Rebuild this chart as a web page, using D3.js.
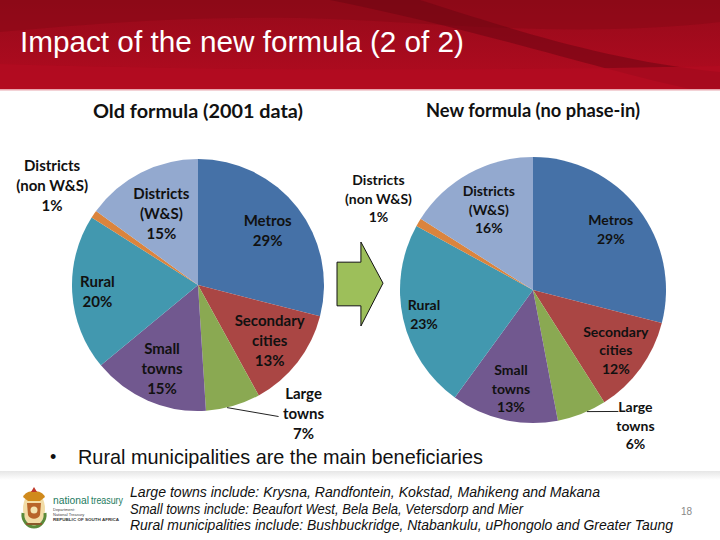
<!DOCTYPE html>
<html>
<head>
<meta charset="utf-8">
<script src="https://cdn.jsdelivr.net/npm/d3@7"></script>
<style>
  body { margin: 0; background: #fff; }
  svg { display: block; font-family: "Liberation Sans", Arial, sans-serif; }
  .lbl { font-family: Lato, "Open Sans", sans-serif; font-weight: bold; fill: #111; }
</style>
</head>
<body>
<svg class="slide" width="720" height="540"></svg>
<script>
// data
const categories = ["Metros", "Secondary cities", "Large towns", "Small towns", "Rural", "Districts (non W&S)", "Districts (W&S)"];
const labelLines = [["Metros"], ["Secondary", "cities"], ["Large", "towns"], ["Small", "towns"], ["Rural"], ["Districts", "(non W&S)"], ["Districts", "(W&S)"]];
const oldShares = [29, 13, 7, 15, 20, 1, 15];
const newShares = [29, 12, 6, 13, 23, 1, 16];
const sliceColors = ["#4571a7", "#aa4644", "#8aa952", "#71588f", "#4298af", "#db843d", "#93a9cf"];
const footnotes = [
  "Large towns include: Krysna, Randfontein, Kokstad, Mahikeng and Makana",
  "Small towns include: Beaufort West, Bela Bela, Vetersdorp and Mier",
  "Rural municipalities include: Bushbuckridge, Ntabankulu, uPhongolo and Greater Taung"
];

const svg = d3.select(".slide");

/*
      Header
*/
const defs = svg.append("defs");
const hg = defs.append("linearGradient").attr("id", "hdr").attr("x1", 0).attr("y1", 0).attr("x2", 0).attr("y2", 1);
hg.append("stop").attr("offset", "0%").attr("stop-color", "#960a1a");
hg.append("stop").attr("offset", "100%").attr("stop-color", "#b20b20");
svg.append("rect").attr("width", 720).attr("height", 89).attr("fill", "url(#hdr)");

// darker swooshes
svg.append("path")
  .attr("d", "M0,0 L720,0 L720,22 C560,40 420,20 300,18 C180,16 80,25 0,32 Z")
  .attr("fill", "#7f0714").attr("opacity", 0.4);
svg.append("path")
  .attr("d", "M330,0 L420,0 C500,25 600,60 720,72 L720,89 L690,89 C600,70 480,30 330,0 Z")
  .attr("fill", "#6e0512").attr("opacity", 0.55);
svg.append("path")
  .attr("d", "M0,64 C200,70 420,72 720,66 L720,89 L0,89 Z")
  .attr("fill", "#b40c21").attr("opacity", 0.7);
svg.append("rect").attr("x", 0).attr("y", 89).attr("width", 720).attr("height", 1.5).attr("fill", "#e8a6ae");

svg.append("text")
  .attr("x", 20).attr("y", 52)
  .attr("fill", "#fff")
  .attr("font-size", 29)
  .attr("textLength", 444).attr("lengthAdjust", "spacingAndGlyphs")
  .text("Impact of the new formula (2 of 2)");

/*
      Pies
*/
const pie = d3.pie().sort(null).value((d) => d);

function drawPie(opts) {
  const g = svg.append("g").attr("transform", `translate(${opts.cx},${opts.cy})`);
  const arcs = pie(opts.values);
  const arc = d3.arc().innerRadius(0).outerRadius(opts.r);

  g.selectAll("path")
    .data(arcs)
    .join("path")
    .attr("d", arc)
    .attr("fill", (d, i) => sliceColors[i]);

  svg.append("text")
    .attr("class", "lbl")
    .attr("x", opts.cx).attr("y", opts.titleY)
    .attr("text-anchor", "middle")
    .attr("font-size", 19)
    .attr("textLength", opts.titleW).attr("lengthAdjust", "spacingAndGlyphs")
    .text(opts.title);

  arcs.forEach((d, i) => {
    const lay = opts.layout[i];
    const mid = lay.angle !== undefined ? (lay.angle * Math.PI) / 180 : (d.startAngle + d.endAngle) / 2;
    const dist = opts.r * lay.ratio;
    const x = Math.sin(mid) * dist;
    const y = -Math.cos(mid) * dist;
    const lines = labelLines[i].concat([d3.format(".0f")(opts.values[i]) + "%"]);
    const top = y - ((lines.length - 1) * opts.lh) / 2;
    const t = g.append("text").attr("class", "lbl").attr("font-size", opts.fs).attr("text-anchor", "middle");
    lines.forEach((ln, k) => {
      t.append("tspan").attr("x", x).attr("y", top + k * opts.lh + opts.fs * 0.36).text(ln);
    });
    if (lay.leader) {
      const L = lay.leader;
      const a = (d.startAngle + d.endAngle) / 2 + L.da;
      const sx = Math.sin(a) * opts.r;
      const sy = -Math.cos(a) * opts.r;
      g.append("path")
        .attr("d", `M${sx},${sy} L${x - L.ex},${top + L.ey}`)
        .attr("stroke", "#222").attr("stroke-width", 1).attr("fill", "none");
    }
  });
}

drawPie({
  values: oldShares, cx: 198, cy: 285, r: 126, fs: 15, lh: 20,
  title: "Old formula (2001 data)", titleY: 118, titleW: 210,
  layout: [
    { ratio: 0.7 }, { ratio: 0.72 }, { ratio: 1.32, angle: 140.6, leader: { da: 0.05, ex: 25, ey: 23 } }, { ratio: 0.72 },
    { ratio: 0.8 }, { ratio: 1.4 }, { ratio: 0.64 }
  ]
});

drawPie({
  values: newShares, cx: 533, cy: 290, r: 133, fs: 14, lh: 18.5,
  title: "New formula (no phase-in)", titleY: 117, titleW: 214,
  layout: [
    { ratio: 0.74 }, { ratio: 0.77 }, { ratio: 1.28, angle: 143, leader: { da: -0.04, ex: 17, ey: 4 } }, { ratio: 0.76 },
    { ratio: 0.84 }, { ratio: 1.35 }, { ratio: 0.69 }
  ]
});

/*
      Arrow
*/
const ax = d3.scaleLinear().domain([0, 1]).range([337, 383]);
const ay = d3.scaleLinear().domain([0, 1]).range([242, 326]);
const arrowPts = [[0, 0.24], [0.52, 0.24], [0.52, 0], [1, 0.49], [0.52, 1], [0.52, 0.76], [0, 0.76]];
svg.append("path")
  .attr("d", d3.line().x((p) => ax(p[0])).y((p) => ay(p[1])).curve(d3.curveLinearClosed)(arrowPts))
  .attr("fill", "#9dbf5a").attr("stroke", "#111").attr("stroke-width", 1);

/*
      Bullet + footer
*/
svg.append("text").attr("x", 50).attr("y", 463).attr("font-size", 18).attr("fill", "#111").text("•");
svg.append("text")
  .attr("x", 78).attr("y", 464)
  .attr("font-size", 21).attr("fill", "#111")
  .attr("textLength", 405).attr("lengthAdjust", "spacingAndGlyphs")
  .text("Rural municipalities are the main beneficiaries");

const sg = defs.append("linearGradient").attr("id", "shade").attr("x1", 0).attr("y1", 0).attr("x2", 0).attr("y2", 1);
sg.append("stop").attr("offset", "0%").attr("stop-color", "#e6e6e6");
sg.append("stop").attr("offset", "100%").attr("stop-color", "#fff");
svg.append("rect").attr("x", 0).attr("y", 471).attr("width", 720).attr("height", 9).attr("fill", "url(#shade)");

const fnWidths = [470, 393, 543];
footnotes.forEach((s, i) => {
  svg.append("text")
    .attr("x", 130).attr("y", 497 + i * 16.5)
    .attr("font-size", 14.5).attr("font-style", "italic").attr("fill", "#111")
    .attr("textLength", fnWidths[i]).attr("lengthAdjust", "spacingAndGlyphs")
    .text(s);
});
svg.append("text").attr("x", 681).attr("y", 515).attr("font-size", 10).attr("fill", "#888").text("18");

// logo (rough coat of arms)
const logo = svg.append("g").attr("transform", "translate(34,509)");
logo.append("ellipse").attr("rx", 11).attr("ry", 17).attr("fill", "#e9c46a").attr("opacity", 0.6);
logo.append("path").attr("d", "M-11,-12 C-8,-20 8,-20 11,-12 L6,-8 L-6,-8 Z").attr("fill", "#d08a1c");
logo.append("path").attr("d", "M-3,-17 L0,-22 L3,-17 Z").attr("fill", "#c0392b");
logo.append("path").attr("d", "M-7,-6 L7,-6 L6,6 C4,11 -4,11 -6,6 Z").attr("fill", "#b8642a");
logo.append("circle").attr("cx", 0).attr("cy", 1).attr("r", 3.5).attr("fill", "#f3e3b0");
logo.append("path").attr("d", "M-11,4 C-12,12 -6,18 0,18 C6,18 12,12 11,4").attr("fill", "none").attr("stroke", "#5b8a3a").attr("stroke-width", 3);
logo.append("path").attr("d", "M-8,15 L8,15").attr("stroke", "#8a5a2a").attr("stroke-width", 2);

svg.append("text").attr("x", 53).attr("y", 504).attr("font-size", 10).attr("fill", "#1d7a5e")
  .attr("textLength", 36).attr("lengthAdjust", "spacingAndGlyphs").text("national");
svg.append("text").attr("x", 91).attr("y", 504).attr("font-size", 10).attr("fill", "#1d7a5e")
  .attr("textLength", 32).attr("lengthAdjust", "spacingAndGlyphs").text("treasury");
svg.append("text").attr("x", 53).attr("y", 511).attr("font-size", 4).attr("fill", "#444").text("Department:");
svg.append("text").attr("x", 53).attr("y", 516).attr("font-size", 4).attr("fill", "#444").text("National Treasury");
svg.append("text").attr("x", 53).attr("y", 521).attr("font-size", 4).attr("font-weight", "bold").attr("fill", "#333")
  .attr("textLength", 66).attr("lengthAdjust", "spacingAndGlyphs").text("REPUBLIC OF SOUTH AFRICA");
</script>
</body>
</html>
